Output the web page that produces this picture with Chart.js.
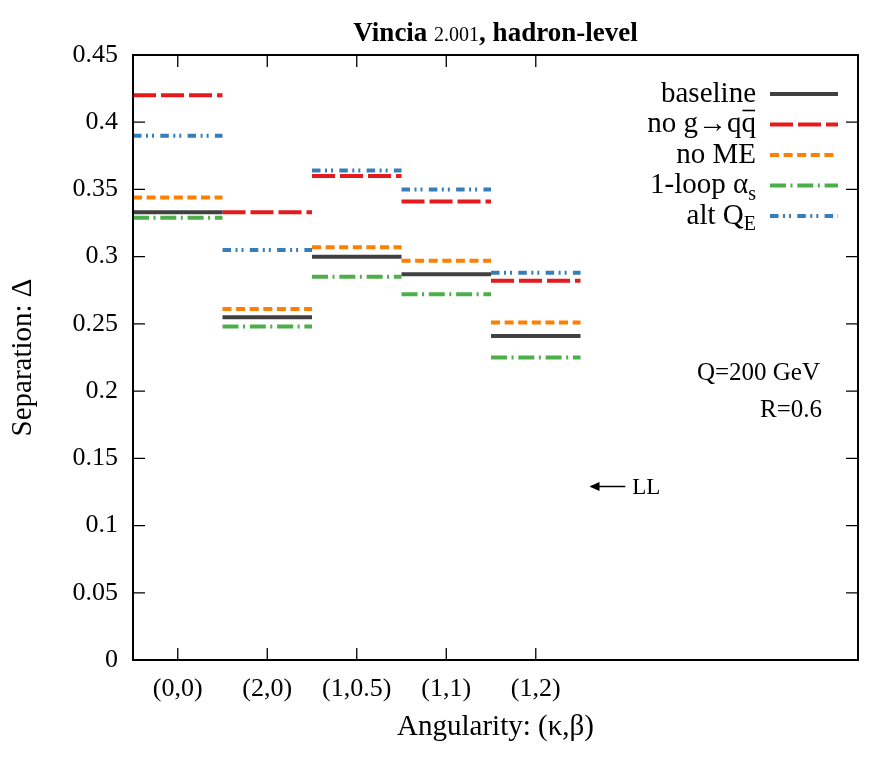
<!DOCTYPE html>
<html>
<head>
<meta charset="utf-8">
<script src="https://cdn.jsdelivr.net/npm/chart.js@4/dist/chart.umd.min.js"></script>
<style>
  html, body { margin: 0; padding: 0; background: #fff; }
</style>
</head>
<body>
<canvas id="chart" width="886" height="767"></canvas>
<script>
// angularities on the x axis
var categories = ['(0,0)', '(2,0)', '(1,0.5)', '(1,1)', '(1,2)'];
var yTicks = [0, 0.05, 0.1, 0.15, 0.2, 0.25, 0.3, 0.35, 0.4, 0.45];

// separation per variation
var baseline = [0.333, 0.255, 0.300, 0.287, 0.241];
var noGqq    = [0.420, 0.333, 0.360, 0.341, 0.282];
var noME     = [0.344, 0.261, 0.307, 0.297, 0.251];
var oneLoop  = [0.329, 0.248, 0.285, 0.272, 0.225];
var altQE    = [0.390, 0.305, 0.364, 0.350, 0.288];

var FONT = "'Liberation Serif', 'DejaVu Serif', serif";

var series = [
  { values: baseline, color: '#404040', dash: [],
    label: [{ t: 'baseline' }] },
  { values: noGqq, color: '#e41a1c', dash: [23, 5],
    label: [{ t: 'no g' }, { t: '\u2192' }, { t: 'q' }, { t: 'q', bar: true }] },
  { values: noME, color: '#ff7f00', dash: [9, 4.6],
    label: [{ t: 'no ME' }] },
  { values: oneLoop, color: '#4daf4a', dash: [16, 4.5, 2, 4.8],
    label: [{ t: '1-loop \u03b1' }, { t: 's', sub: true }] },
  { values: altQE, color: '#377eb8', dash: [8.5, 4.5, 2, 4, 2, 6.3],
    label: [{ t: 'alt Q' }, { t: 'E', sub: true }] }
];

// each value is a flat segment one category wide, broken between categories
function segments(values) {
  var pts = [];
  values.forEach(function(v, i) {
    pts.push({ x: i - 0.5, y: v });
    pts.push({ x: i + 0.5, y: v });
    pts.push({ x: i + 0.5, y: null });
  });
  return pts;
}

function drawRich(ctx, parts, right, y, size) {
  var sub = Math.round(size * 0.68);
  var widths = parts.map(function(p) {
    ctx.font = (p.sub ? sub : size) + 'px ' + FONT;
    return ctx.measureText(p.t).width;
  });
  var total = widths.reduce(function(a, b) { return a + b; }, 0);
  var x = right - total;
  ctx.textBaseline = 'middle';
  ctx.textAlign = 'left';
  parts.forEach(function(p, i) {
    ctx.font = (p.sub ? sub : size) + 'px ' + FONT;
    ctx.fillText(p.t, x, p.sub ? y + 9 : y);
    if (p.bar) {
      ctx.beginPath();
      ctx.lineWidth = 1.6;
      ctx.moveTo(x + 1, y - 14);
      ctx.lineTo(x + widths[i] - 1, y - 14);
      ctx.stroke();
    }
    x += widths[i];
  });
}

var decorations = {
  id: 'decorations',
  afterDraw: function(chart) {
    var ctx = chart.ctx;
    var a = chart.chartArea;
    var xs = chart.scales.x, ys = chart.scales.y;
    ctx.save();
    ctx.strokeStyle = '#000';
    ctx.fillStyle = '#000';

    // frame
    ctx.lineWidth = 2;
    ctx.strokeRect(a.left, a.top, a.right - a.left, a.bottom - a.top);

    // inward mirrored ticks
    ctx.lineWidth = 1.3;
    ctx.beginPath();
    categories.forEach(function(c, i) {
      var px = xs.getPixelForValue(i);
      ctx.moveTo(px, a.bottom); ctx.lineTo(px, a.bottom - 12);
      ctx.moveTo(px, a.top); ctx.lineTo(px, a.top + 12);
    });
    yTicks.forEach(function(v) {
      var py = ys.getPixelForValue(v);
      ctx.moveTo(a.left, py); ctx.lineTo(a.left + 12, py);
      ctx.moveTo(a.right, py); ctx.lineTo(a.right - 12, py);
    });
    ctx.stroke();

    // title
    var tParts = [
      { t: 'Vincia ', f: 'bold 27px ' + FONT },
      { t: '2.001', f: '20px ' + FONT },
      { t: ', hadron-level', f: 'bold 27px ' + FONT }
    ];
    var tw = 0;
    tParts.forEach(function(p) { ctx.font = p.f; p.w = ctx.measureText(p.t).width; tw += p.w; });
    var tx = (a.left + a.right) / 2 - tw / 2;
    ctx.textBaseline = 'alphabetic';
    ctx.textAlign = 'left';
    tParts.forEach(function(p) { ctx.font = p.f; ctx.fillText(p.t, tx, 41); tx += p.w; });

    // legend: text right-aligned, sample line to the right
    var ly = a.top + 39;
    series.forEach(function(s) {
      drawRich(ctx, s.label, a.right - 102, ly, 29);
      ctx.save();
      ctx.strokeStyle = s.color;
      ctx.lineWidth = 4;
      ctx.setLineDash(s.dash);
      ctx.beginPath();
      ctx.moveTo(a.right - 88, ly);
      ctx.lineTo(a.right - 20, ly);
      ctx.stroke();
      ctx.restore();
      ly += 30.5;
    });

    // annotations
    ctx.font = '25px ' + FONT;
    ctx.textAlign = 'right';
    ctx.textBaseline = 'middle';
    ctx.fillText('Q=200 GeV', a.right - 38, a.top + 318);
    ctx.fillText('R=0.6', a.right - 36, a.top + 355);

    var ay = ys.getPixelForValue(0.129);
    var ax0 = xs.getPixelForValue(4.6), ax1 = xs.getPixelForValue(5.0);
    ctx.lineWidth = 1.6;
    ctx.beginPath();
    ctx.moveTo(ax1, ay); ctx.lineTo(ax0 + 2, ay);
    ctx.stroke();
    ctx.beginPath();
    ctx.moveTo(ax0, ay); ctx.lineTo(ax0 + 10, ay - 4.5); ctx.lineTo(ax0 + 10, ay + 4.5);
    ctx.closePath();
    ctx.fill();
    ctx.textAlign = 'left';
    ctx.font = '23px ' + FONT;
    ctx.fillText('LL', ax1 + 7, ay + 1);

    ctx.restore();
  }
};

new Chart(document.getElementById('chart'), {
  type: 'line',
  data: {
    datasets: series.map(function(s) {
      return {
        data: segments(s.values),
        borderColor: s.color,
        borderWidth: 4,
        borderDash: s.dash,
        borderCapStyle: 'butt',
        pointRadius: 0,
        spanGaps: false,
        fill: false
      };
    })
  },
  options: {
    responsive: false,
    animation: false,
    devicePixelRatio: 1,
    layout: { padding: { top: 55, right: 28, left: 0, bottom: 0 } },
    plugins: { legend: { display: false }, title: { display: false }, tooltip: { enabled: false } },
    scales: {
      x: {
        type: 'linear',
        min: -0.5,
        max: 7.6,
        afterBuildTicks: function(axis) {
          axis.ticks = categories.map(function(c, i) { return { value: i }; });
        },
        afterFit: function(scale) { scale.height = 107; },
        grid: { display: false, drawTicks: false },
        border: { display: false },
        ticks: {
          padding: 14,
          color: '#000',
          font: { family: FONT, size: 26 },
          maxRotation: 0,
          callback: function(v) { return categories[v]; }
        },
        title: {
          display: true,
          text: 'Angularity: (\u03ba,\u03b2)',
          color: '#000',
          font: { family: FONT, size: 29 },
          padding: { top: 0, bottom: 22 }
        }
      },
      y: {
        min: 0,
        max: 0.45,
        afterBuildTicks: function(axis) {
          axis.ticks = yTicks.map(function(v) { return { value: v }; });
        },
        afterFit: function(scale) { scale.width = 133; },
        grid: { display: false, drawTicks: false },
        border: { display: false },
        ticks: {
          padding: 15,
          color: '#000',
          font: { family: FONT, size: 26 },
          callback: function(v) { return String(+v.toFixed(2)); }
        },
        title: {
          display: true,
          text: 'Separation: \u0394',
          color: '#000',
          font: { family: FONT, size: 29 },
          padding: { top: 6, bottom: 0 }
        }
      }
    }
  },
  plugins: [decorations]
});
</script>
</body>
</html>
